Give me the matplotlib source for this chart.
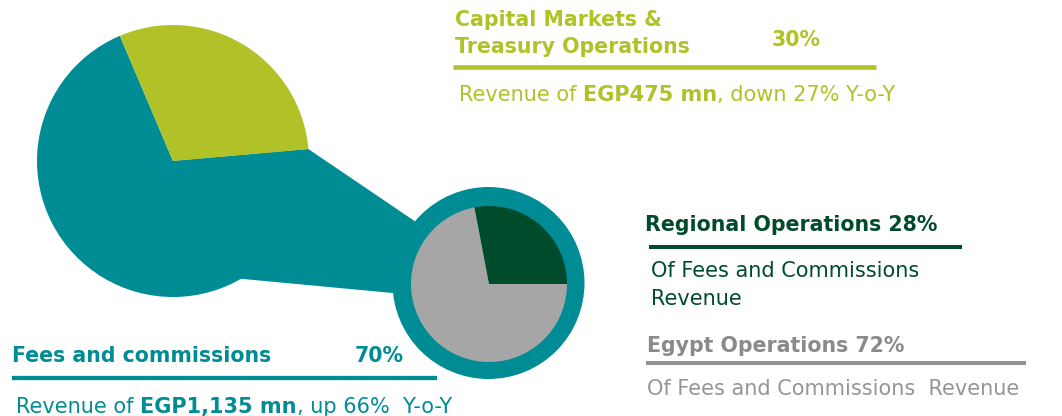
import numpy as np
import matplotlib.pyplot as plt
from matplotlib.patches import Circle, Polygon

W, H = 1062, 416

TEAL = '#008C95'
LIME = '#B0C227'
DKGREEN = '#004B2C'
GRAY_PIE = '#A6A6A6'
GRAY_TXT = '#8A8A8A'

# revenue split
seg_names = ['Fees and commissions', 'Capital Markets &\nTreasury Operations']
seg_share = [70, 30]
seg_revenue = ['EGP1,135 mn', 'EGP475 mn']
seg_change = ['up 66%  Y-o-Y', 'down 27% Y-o-Y']

# fees and commissions split
fee_names = ['Regional Operations', 'Egypt Operations']
fee_share = [28, 72]
fee_note = ['Of Fees and Commissions\nRevenue', 'Of Fees and Commissions  Revenue']

fig = plt.figure(figsize=(W / 100, H / 100), dpi=100)
ax = fig.add_axes([0, 0, 1, 1])


def py(y):
    # pixel row (from top) -> data y
    return H - y


def on_circle(c, r, deg):
    a = np.radians(deg)
    return (c[0] + r * np.cos(a), c[1] + r * np.sin(a))


big_c, big_r = (173, py(161)), 136
ring_c, ring_r = (488.5, py(283)), 96
small_c, small_r = (489, py(284)), 78

lime_start = 5
teal_start = lime_start + 360 * seg_share[1] / 100

# teal band joining the big pie to the small one
band = Polygon([big_c,
                on_circle(big_c, big_r, lime_start),
                on_circle(ring_c, ring_r, 140),
                on_circle(ring_c, ring_r, 186),
                on_circle(big_c, big_r, -60)],
               closed=True, facecolor=TEAL, edgecolor='none', zorder=0.5)
ax.add_patch(band)

ax.pie(seg_share, colors=[TEAL, LIME], startangle=teal_start, center=big_c,
       radius=big_r, frame=True, wedgeprops=dict(linewidth=0))
ax.add_patch(Circle(ring_c, ring_r, facecolor=TEAL, edgecolor='none', zorder=1))
ax.pie(fee_share, colors=[DKGREEN, GRAY_PIE], startangle=0, center=small_c,
       radius=small_r, frame=True, wedgeprops=dict(linewidth=0, zorder=2))

ax.set_xlim(0, W)
ax.set_ylim(0, H)
ax.set_aspect('equal')
ax.axis('off')

HEAD = 14.8
BODY = 15


def runs(x, y, parts, color, size=BODY):
    t = ax.text(x, py(y), parts[0][0], fontweight=parts[0][1], color=color,
                fontsize=size, va='baseline', ha='left')
    for s, w in parts[1:]:
        t = ax.annotate(s, xy=(1, 0), xycoords=t, va='bottom', ha='left',
                        fontweight=w, color=color, fontsize=size)


def rule(x0, x1, y, color, lw=3.0):
    ax.plot([x0, x1], [py(y), py(y)], color=color, lw=lw, solid_capstyle='butt')


# Capital markets block
name1, name2 = seg_names[1].split('\n')
ax.text(455, py(26), name1, fontsize=HEAD, fontweight='bold', color=LIME, va='baseline')
ax.text(455, py(53), name2, fontsize=HEAD, fontweight='bold', color=LIME, va='baseline')
ax.text(772, py(46), f'{seg_share[1]}%', fontsize=HEAD, fontweight='bold', color=LIME, va='baseline')
rule(453, 876, 67, LIME, 3.3)
runs(459, 101, [('Revenue of ', 'normal'), (seg_revenue[1], 'bold'),
                (', ' + seg_change[1], 'normal')], LIME)

# Fees block
ax.text(12, py(362), seg_names[0], fontsize=HEAD, fontweight='bold', color=TEAL, va='baseline')
ax.text(355, py(362), f'{seg_share[0]}%', fontsize=HEAD, fontweight='bold', color=TEAL, va='baseline')
rule(12, 437, 378, TEAL, 3.1)
runs(16, 413, [('Revenue of ', 'normal'), (seg_revenue[0], 'bold'),
               (', ' + seg_change[0], 'normal')], TEAL)

# Regional operations
ax.text(645, py(231), f'{fee_names[0]} {fee_share[0]}%', fontsize=HEAD, fontweight='bold',
        color=DKGREEN, va='baseline')
rule(649, 962, 247, DKGREEN, 2.9)
l1, l2 = fee_note[0].split('\n')
ax.text(651, py(277), l1, fontsize=BODY, color=DKGREEN, va='baseline')
ax.text(651, py(305), l2, fontsize=BODY, color=DKGREEN, va='baseline')

# Egypt operations
ax.text(647, py(352), f'{fee_names[1]} {fee_share[1]}%', fontsize=HEAD, fontweight='bold',
        color=GRAY_TXT, va='baseline')
rule(646, 1026, 363, '#929292', 2.9)
ax.text(647, py(395), fee_note[1], fontsize=BODY, color='#959595', va='baseline')

fig.savefig('out.png', dpi=100)
